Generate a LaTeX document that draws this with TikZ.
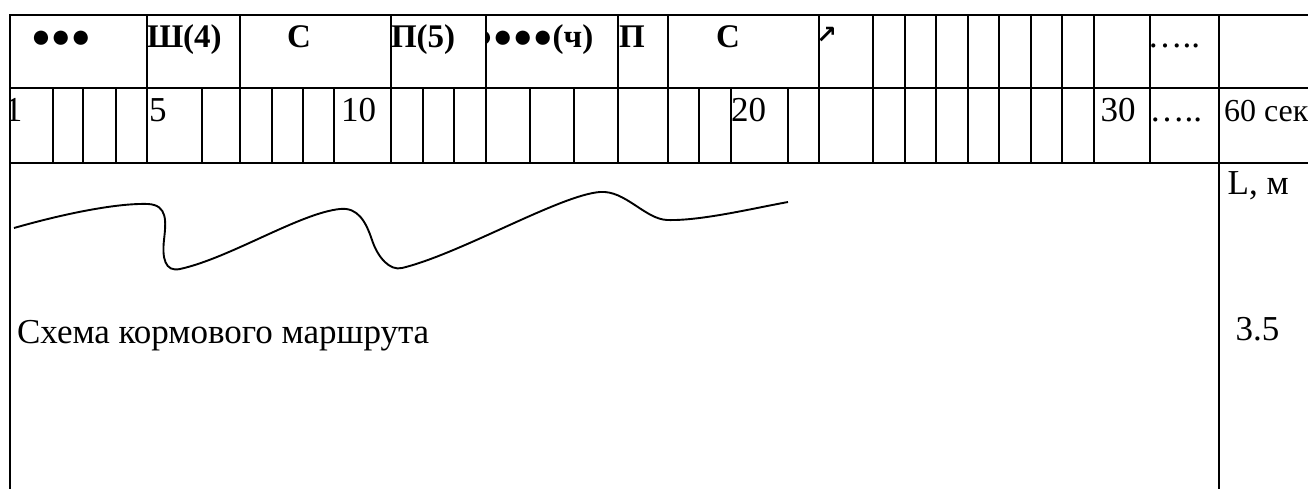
\documentclass[tikz,border=0pt]{standalone}
\usepackage{fontspec}
\setmainfont{Liberation Serif}
\newfontfamily\djv{DejaVu Sans}
\begin{document}
\begin{tikzpicture}[x=1pt,y=-1pt,
  grid/.style={line width=2.8pt, line cap=rect},
  txt/.style={anchor=base west, inner sep=0pt, outer sep=0pt, font=\fontsize{35}{40}\selectfont},
  btxt/.style={anchor=base west, inner sep=0pt, outer sep=0pt, font=\fontsize{33}{40}\selectfont\bfseries},
  curve/.style={line width=1.9pt}]
\useasboundingbox[fill=white] (0,0) rectangle (1308,489);
% row 1 texts
\node[btxt] (b1) at (31,47.5) {●●●};
\node[btxt] (sh4) at (147,47.5) {Ш(4)};
\node[btxt] (s1) at (287,47.5) {С};
\node[btxt] (p5) at (391,47.5) {П(5)};
\begin{scope}
\clip (486,15) rectangle (618,88);
\node[btxt] (b4) at (473,47.5) {●●●●(ч)};
\end{scope}
\node[btxt] (p) at (619,47.5) {П};
\node[btxt] (s2) at (716,47.5) {С};
\node[txt, font=\djv\bfseries\fontsize{25}{30}\selectfont] (arr) at (816,44) {↗};
\node[txt] (dots1) at (1147.5,47.5) {…..};
% row 2 texts
\begin{scope}
\clip (10,88) rectangle (53,163);
\node[txt] (n1) at (5,121.5) {1};
\end{scope}
\node[txt] (n5) at (149,121.5) {5};
\node[txt] (n10) at (341,121.5) {10};
\node[txt] (n20) at (731,121.5) {20};
\node[txt] (n30) at (1100.5,121.5) {30};
\node[txt] (dots2) at (1149.5,121.5) {…..};
\node[txt, font=\fontsize{32}{38}\selectfont] (n60) at (1224,121.5) {60 сек};
% lower part
\node[txt] (lm) at (1227.6,194) {L, м};
\node[txt] (v35) at (1235.5,340) {3.5};
\node[txt] (title) at (17,343) {Схема кормового маршрута};
% grid
\draw[grid] (10,15) -- (1308,15);
\draw[grid] (10,88) -- (1308,88);
\draw[grid] (10,163) -- (1308,163);
\draw[grid] (10,15) -- (10,489);
\draw[grid] (1219,15) -- (1219,489);
\foreach \x in {147,240,391,486,618,668,819,873,905,936,968,999,1031,1062,1094,1150}
  \draw[grid] (\x,15) -- (\x,88);
\foreach \x in {53,83,116,147,202,240,272,303,334,391,423,454,486,530,574,618,668,699,731,788,819,873,905,936,968,999,1031,1062,1094,1150}
  \draw[grid] (\x,88) -- (\x,163);
% route curve
\coordinate (c0) at (14,228);
\coordinate (c9) at (788,202);
\draw[curve] (c0)
  .. controls (70,212) and (120,203) .. (148,204)
  .. controls (168,205) and (166,222) .. (164,240)
  .. controls (162,258) and (165,272.3) .. (180,269)
  .. controls (230,258) and (300,213) .. (340,209)
  .. controls (358,207) and (366,222) .. (372,240)
  .. controls (378,258) and (390,271) .. (402,268)
  .. controls (460,254) and (560,195) .. (600,192)
  .. controls (625,190) and (645,219) .. (667,220)
  .. controls (700,221) and (750,209) .. (c9);
\end{tikzpicture}
\end{document}
